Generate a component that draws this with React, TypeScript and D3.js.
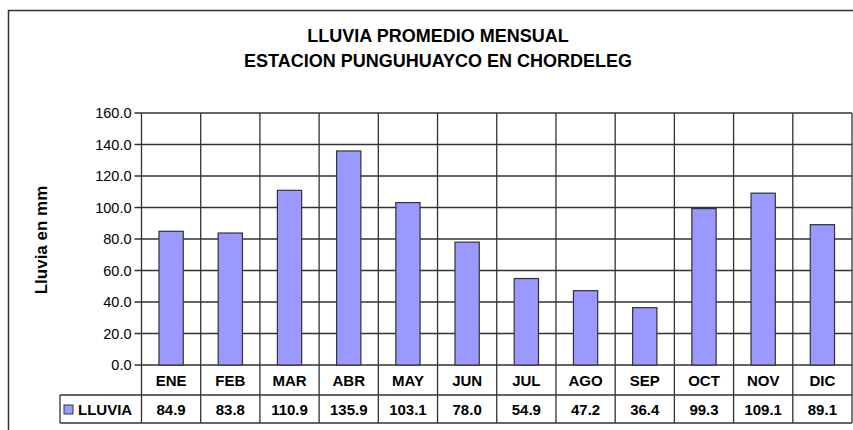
import * as d3 from 'd3';
import React, { useEffect, useRef } from 'react';

// datos
const meses = ['ENE', 'FEB', 'MAR', 'ABR', 'MAY', 'JUN', 'JUL', 'AGO', 'SEP', 'OCT', 'NOV', 'DIC'];
const lluvia = [84.9, 83.8, 110.9, 135.9, 103.1, 78.0, 54.9, 47.2, 36.4, 99.3, 109.1, 89.1];
const yTicks = [0, 20, 40, 60, 80, 100, 120, 140, 160];

export default function App() {
  const svgRef = useRef<SVGSVGElement>(null);
  const width = 853;
  const height = 430;

  useEffect(() => {
    const svg = d3.select(svgRef.current);
    svg.selectAll('*').remove();

    const left = 141.5;
    const right = 852;
    const top = 113;
    const zero = 365;
    const catRow = 30;
    const valRow = 28;
    const legendLeft = 60;
    const lineColor = '#333';
    const font = 'Arial, "Liberation Sans", sans-serif';

    svg.append('rect').attr('width', width).attr('height', height).attr('fill', '#fff');

    // marco exterior
    svg.append('rect')
      .attr('x', 8.5).attr('y', 10.5)
      .attr('width', 870).attr('height', 440)
      .attr('fill', 'none').attr('stroke', '#333').attr('stroke-width', 1.5);

    // títulos
    svg.append('text')
      .attr('x', 438).attr('y', 42)
      .attr('text-anchor', 'middle')
      .style('font-family', font).style('font-weight', 'bold').style('font-size', '18px')
      .text('LLUVIA PROMEDIO MENSUAL');
    svg.append('text')
      .attr('x', 438).attr('y', 67)
      .attr('text-anchor', 'middle')
      .style('font-family', font).style('font-weight', 'bold').style('font-size', '18px')
      .text('ESTACION PUNGUHUAYCO EN CHORDELEG');

    const x = d3.scaleBand().domain(meses).range([left, right]).paddingInner(0).paddingOuter(0);
    const y = d3.scaleLinear().domain([0, 160]).range([zero, top]);

    const g = svg.append('g');

    // líneas de grade horizontales
    g.selectAll('.grid-h')
      .data(yTicks)
      .enter()
      .append('line')
      .attr('x1', left - 7).attr('x2', right)
      .attr('y1', (d) => y(d)).attr('y2', (d) => y(d))
      .attr('stroke', lineColor).attr('stroke-width', 1.3);

    // líneas verticales (columnas)
    const cols = meses.map((m) => x(m) as number).concat([right]);
    g.selectAll('.grid-v')
      .data(cols)
      .enter()
      .append('line')
      .attr('x1', (d) => d).attr('x2', (d) => d)
      .attr('y1', top).attr('y2', zero + catRow + valRow)
      .attr('stroke', lineColor).attr('stroke-width', 1.3);

    // filas de la tabla
    g.append('line')
      .attr('x1', legendLeft).attr('x2', right)
      .attr('y1', zero + catRow).attr('y2', zero + catRow)
      .attr('stroke', lineColor).attr('stroke-width', 1.3);
    g.append('line')
      .attr('x1', legendLeft).attr('x2', right)
      .attr('y1', zero + catRow + valRow).attr('y2', zero + catRow + valRow)
      .attr('stroke', lineColor).attr('stroke-width', 1.3);
    g.append('line')
      .attr('x1', legendLeft).attr('x2', legendLeft)
      .attr('y1', zero + catRow).attr('y2', zero + catRow + valRow)
      .attr('stroke', lineColor).attr('stroke-width', 1.3);

    // barras
    const bw = x.bandwidth() * 0.41;
    g.selectAll('.bar')
      .data(lluvia)
      .enter()
      .append('rect')
      .attr('x', (d, i) => (x(meses[i]) as number) + x.bandwidth() / 2 - bw / 2)
      .attr('y', (d) => y(d))
      .attr('width', bw)
      .attr('height', (d) => zero - y(d))
      .attr('fill', '#9999ff')
      .attr('stroke', '#333')
      .attr('stroke-width', 1.2);

    // etiquetas eje y
    g.selectAll('.ytick')
      .data(yTicks)
      .enter()
      .append('text')
      .attr('x', left - 10)
      .attr('y', (d) => y(d) + 5)
      .attr('text-anchor', 'end')
      .style('font-family', font).style('font-size', '14.5px')
      .text((d) => d.toFixed(1));

    // meses
    g.selectAll('.cat')
      .data(meses)
      .enter()
      .append('text')
      .attr('x', (d) => (x(d) as number) + x.bandwidth() / 2)
      .attr('y', zero + 20.5)
      .attr('text-anchor', 'middle')
      .style('font-family', font).style('font-weight', 'bold').style('font-size', '15px')
      .text((d) => d);

    // valores
    g.selectAll('.val')
      .data(lluvia)
      .enter()
      .append('text')
      .attr('x', (d, i) => (x(meses[i]) as number) + x.bandwidth() / 2)
      .attr('y', zero + catRow + 19.5)
      .attr('text-anchor', 'middle')
      .style('font-family', font).style('font-weight', 'bold').style('font-size', '15px')
      .text((d) => d.toFixed(1));

    // leyenda
    g.append('rect')
      .attr('x', 64).attr('y', zero + catRow + 10)
      .attr('width', 9).attr('height', 9)
      .attr('fill', '#9999ff').attr('stroke', '#333').attr('stroke-width', 1);
    g.append('text')
      .attr('x', 78).attr('y', zero + catRow + 20)
      .style('font-family', font).style('font-weight', 'bold').style('font-size', '15px')
      .text('LLUVIA');

    // título eje y
    svg.append('text')
      .attr('transform', 'translate(47,240) rotate(-90)')
      .attr('text-anchor', 'middle')
      .style('font-family', font).style('font-weight', 'bold').style('font-size', '17px')
      .text('Lluvia en mm');
  }, []);

  return (
    <svg ref={svgRef} width={width} height={height} style={{ position: 'absolute', left: 0, top: 0 }} />
  );
}
